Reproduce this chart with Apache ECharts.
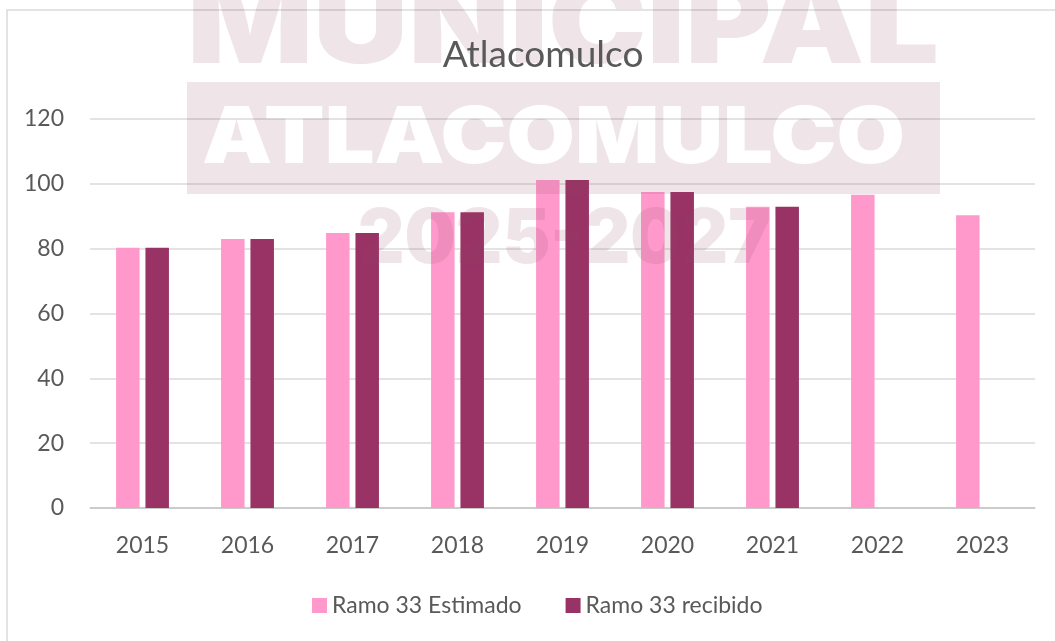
<!DOCTYPE html>
<html>
<head>
<meta charset="utf-8">
<title>Atlacomulco</title>
<script src="https://cdn.jsdelivr.net/npm/echarts@6/dist/echarts.min.js"></script>
<style>
    html, body { margin: 0; padding: 0; background: #fff; }
    #main { width: 1055px; height: 641px; }
</style>
</head>
<body>
<div id="main"></div>
<script>
var years = ["2015", "2016", "2017", "2018", "2019", "2020", "2021", "2022", "2023"];
var estimado = [80.3, 83.0, 84.8, 91.2, 101.2, 97.5, 92.9, 96.6, 90.3];
var recibido = [80.3, 83.0, 84.8, 91.2, 101.2, 97.5, 92.9, null, null];
var seriesNames = ["Ramo 33 Estimado", "Ramo 33 recibido"];
var yTicks = { min: 0, max: 120, step: 20 };

var FONT = "Lato, 'Open Sans', sans-serif";
var MARK_FONT = "Inter, 'DejaVu Sans', sans-serif";
var GRID_COLOR = "rgba(0,0,0,0.15)";
var TEXT_COLOR = "#595959";

// ancho real de un texto, para estirar la marca de agua al ancho del original
var measureCtx = document.createElement("canvas").getContext("2d");
function textWidth(txt, size) {
    measureCtx.font = "900 " + size + "px " + MARK_FONT;
    return measureCtx.measureText(txt).width;
}

// texto de la marca de agua centrado en (cx, cy), escalado a un ancho dado
function markText(txt, cx, cy, capH, width, fill, z) {
    var size = Math.round(capH / 0.727);
    return {
        type: "text",
        x: cx,
        y: cy,
        scaleX: width / textWidth(txt, size),
        z: z,
        silent: true,
        style: {
            text: txt,
            fill: fill,
            font: "900 " + size + "px " + MARK_FONT,
            textAlign: "center",
            textVerticalAlign: "middle"
        }
    };
}

var myChart = echarts.init(document.getElementById("main"));

var option = {
    backgroundColor: "transparent",
    animation: false,
    title: {
        text: "Atlacomulco",
        left: 538,
        textAlign: "center",
        top: 32,
        textStyle: { fontFamily: FONT, fontSize: 37, fontWeight: "normal", color: TEXT_COLOR }
    },
    legend: {
        data: seriesNames,
        left: 307,
        top: 589,
        icon: "rect",
        itemWidth: 15,
        itemHeight: 15,
        itemGap: 44,
        textStyle: { fontFamily: FONT, fontSize: 23, color: TEXT_COLOR }
    },
    grid: { left: 90, right: 20, top: 119, bottom: 133 },
    xAxis: {
        type: "category",
        data: years,
        axisTick: { show: false },
        axisLine: { lineStyle: { color: GRID_COLOR, width: 1.5 } },
        axisLabel: { fontFamily: FONT, fontSize: 23, color: TEXT_COLOR, margin: 26 }
    },
    yAxis: {
        type: "value",
        min: yTicks.min,
        max: yTicks.max,
        interval: yTicks.step,
        axisLine: { show: false },
        axisTick: { show: false },
        axisLabel: { fontFamily: FONT, fontSize: 23, color: TEXT_COLOR, margin: 26 },
        splitLine: { lineStyle: { color: GRID_COLOR, width: 1.5 } }
    },
    series: [
        {
            name: seriesNames[0],
            type: "bar",
            data: estimado,
            barWidth: 23.5,
            barGap: "25%",
            itemStyle: { color: "#FF99CC" }
        },
        {
            name: seriesNames[1],
            type: "bar",
            data: recibido,
            barWidth: 23.5,
            itemStyle: { color: "#993366" }
        }
    ],
    graphic: [
        // marco del grafico
        {
            type: "rect", z: 50, silent: true,
            shape: { x: 7, y: 10, width: 1100, height: 700 },
            style: { fill: null, stroke: GRID_COLOR, lineWidth: 1.5 }
        },
        // marca de agua: parte de abajo del grafico
        markText("MUNICIPAL", 563, 28, 84, 752, "#EFE5E8", -10),
        {
            type: "rect", z: -10, silent: true,
            shape: { x: 187, y: 82, width: 753, height: 86 },
            style: { fill: "#EFE5E8" }
        },
        markText("ATLACOMULCO", 553.5, 139.5, 57, 703, "#FFFFFF", -9),
        // marca de agua: parte encima de las barras
        {
            type: "rect", z: 100, silent: true,
            shape: { x: 187, y: 168, width: 753, height: 26 },
            style: { fill: "rgba(138,65,87,0.137)" }
        },
        markText("2025-2027", 564.5, 240, 55, 413, "rgba(138,65,87,0.137)", 100)
    ]
};

myChart.setOption(option);
</script>
</body>
</html>
